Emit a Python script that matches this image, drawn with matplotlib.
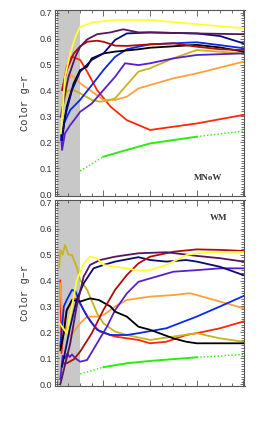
import matplotlib
matplotlib.use("Agg")
import matplotlib.pyplot as plt
from matplotlib.ticker import MultipleLocator, NullFormatter

# ---------------- data (x = arbitrary time units, y = g-r colour) -------------
# Top panel (MNoW)
t_yellow_a = [0.35, 0.7, 1.15, 1.6, 2.0, 3.0, 5.0, 8.0, 12.0, 16.0]
c_yellow_a = [0.235, 0.453, 0.543, 0.608, 0.646, 0.662, 0.672, 0.672, 0.656, 0.640]
t_dpurple_a = [0.35, 0.6, 1.0, 1.6, 2.0, 2.6, 3.45, 4.6, 5.7, 7.0, 8.0, 12.0, 16.0]
c_dpurple_a = [0.299, 0.364, 0.453, 0.531, 0.569, 0.597, 0.617, 0.624, 0.636, 0.624, 0.624, 0.620, 0.617]
t_dred_a = [0.45, 0.85, 1.45, 2.0, 2.6, 3.45, 4.0, 5.0, 6.0, 8.0, 10.0, 12.0, 14.0, 16.0]
c_dred_a = [0.402, 0.479, 0.543, 0.570, 0.588, 0.592, 0.588, 0.573, 0.572, 0.578, 0.582, 0.569, 0.559, 0.556]
t_navy_a = [0.45, 0.7, 1.3, 2.0, 3.0, 4.0, 5.0, 6.0, 8.0, 12.0, 14.0, 16.0]
c_navy_a = [0.209, 0.299, 0.402, 0.473, 0.518, 0.543, 0.595, 0.620, 0.624, 0.620, 0.610, 0.582]
t_black_a = [0.45, 0.85, 1.45, 2.0, 2.6, 3.0, 4.0, 5.0, 7.0, 8.0, 12.0, 14.0, 16.0]
c_black_a = [0.222, 0.338, 0.428, 0.479, 0.492, 0.524, 0.543, 0.550, 0.559, 0.565, 0.576, 0.566, 0.550]
t_blue_a = [0.35, 0.6, 1.15, 2.0, 3.0, 4.0, 5.0, 6.0, 7.0, 8.0, 12.0, 14.0, 16.0]
c_blue_a = [0.209, 0.273, 0.325, 0.364, 0.421, 0.479, 0.530, 0.559, 0.569, 0.578, 0.586, 0.575, 0.563]
t_violet_a = [0.35, 0.45, 0.7, 1.15, 1.6, 2.0, 3.0, 4.0, 5.0, 5.85, 7.0, 8.0, 10.0, 12.0, 16.0]
c_violet_a = [0.240, 0.171, 0.235, 0.267, 0.293, 0.318, 0.350, 0.402, 0.453, 0.505, 0.498, 0.505, 0.524, 0.537, 0.543]
t_olive_a = [0.45, 0.85, 1.3, 2.0, 3.0, 3.7, 4.3, 5.0, 7.0, 8.0, 10.0, 12.0, 16.0]
c_olive_a = [0.325, 0.396, 0.405, 0.389, 0.364, 0.357, 0.360, 0.370, 0.473, 0.486, 0.524, 0.556, 0.543]
t_orange_a = [0.5, 0.85, 1.25, 2.0, 3.0, 4.0, 5.0, 6.0, 7.0, 8.0, 10.0, 12.0, 16.0]
c_orange_a = [0.364, 0.428, 0.460, 0.428, 0.396, 0.364, 0.364, 0.376, 0.408, 0.421, 0.447, 0.466, 0.511]
t_red_a = [0.5, 0.85, 1.25, 2.0, 2.6, 3.45, 4.6, 6.0, 8.0, 12.0, 16.0]
c_red_a = [0.408, 0.492, 0.531, 0.518, 0.473, 0.402, 0.338, 0.286, 0.248, 0.273, 0.306]
t_green_a = [2.0, 4.0, 6.0, 8.0, 12.0, 16.0]
c_green_a = [0.090, 0.145, 0.171, 0.196, 0.222, 0.244]

# Bottom panel (WM)
t_yellow_b = [0.25, 0.85, 1.3, 1.7, 2.3, 2.85, 3.45, 4.0, 5.0, 6.0, 7.0, 8.0, 9.4, 11.1, 12.0, 14.0, 16.0]
c_yellow_b = [0.235, 0.197, 0.300, 0.400, 0.466, 0.492, 0.486, 0.460, 0.453, 0.447, 0.438, 0.440, 0.460, 0.498, 0.505, 0.510, 0.510]
t_dpurple_b = [0.3, 1.15, 1.7, 2.3, 2.85, 3.7, 5.0, 7.0, 9.4, 11.1, 12.0, 14.0, 16.0]
c_dpurple_b = [0.000, 0.158, 0.300, 0.415, 0.460, 0.479, 0.492, 0.505, 0.509, 0.500, 0.495, 0.486, 0.473]
t_navy_b = [0.45, 1.15, 1.7, 2.3, 3.15, 4.0, 5.0, 7.0, 8.0, 9.4, 11.1, 12.0, 14.0, 16.0]
c_navy_b = [0.068, 0.222, 0.325, 0.389, 0.447, 0.460, 0.473, 0.490, 0.479, 0.473, 0.479, 0.473, 0.453, 0.421]
t_dred_b = [0.6, 0.85, 1.45, 2.0, 3.0, 4.0, 5.0, 6.0, 7.0, 8.0, 10.0, 12.0, 14.0, 16.0]
c_dred_b = [0.081, 0.081, 0.096, 0.126, 0.197, 0.287, 0.364, 0.421, 0.466, 0.492, 0.511, 0.520, 0.518, 0.514]
t_violet_b = [0.3, 0.5, 0.7, 0.9, 1.1, 1.3, 1.6, 2.0, 2.6, 3.45, 4.3, 5.0, 6.0, 7.0, 8.0, 10.0, 12.0, 14.0, 16.0]
c_violet_b = [0.020, 0.110, 0.100, 0.118, 0.105, 0.115, 0.100, 0.087, 0.094, 0.158, 0.222, 0.286, 0.350, 0.395, 0.408, 0.434, 0.440, 0.447, 0.447]
t_orange_b = [0.3, 0.4, 0.6, 0.85, 1.15, 2.0, 2.6, 3.45, 4.0, 5.0, 6.0, 8.0, 10.0, 11.4, 12.0, 14.0, 16.0]
c_orange_b = [0.389, 0.300, 0.197, 0.222, 0.184, 0.235, 0.261, 0.261, 0.267, 0.300, 0.325, 0.338, 0.344, 0.351, 0.344, 0.319, 0.293]
t_red_b = [0.3, 0.4, 0.6, 0.85, 1.45, 1.85, 2.3, 3.0, 3.7, 5.0, 7.0, 8.0, 9.4, 11.1, 12.0, 14.0, 16.0]
c_red_b = [0.400, 0.120, 0.222, 0.286, 0.331, 0.325, 0.286, 0.235, 0.203, 0.184, 0.171, 0.158, 0.164, 0.190, 0.197, 0.216, 0.242]
t_blue_b = [0.3, 0.6, 0.85, 1.3, 1.6, 2.0, 2.6, 3.45, 4.6, 6.0, 7.0, 9.4, 12.0, 14.0, 16.0]
c_blue_b = [0.145, 0.300, 0.325, 0.364, 0.358, 0.312, 0.261, 0.210, 0.190, 0.190, 0.197, 0.216, 0.261, 0.300, 0.340]
t_black_b = [0.3, 0.6, 0.85, 1.3, 2.0, 2.85, 3.6, 4.6, 5.0, 6.0, 7.0, 8.0, 10.0, 11.1, 12.0, 16.0]
c_black_b = [0.132, 0.197, 0.286, 0.325, 0.319, 0.331, 0.325, 0.300, 0.280, 0.261, 0.222, 0.210, 0.177, 0.164, 0.158, 0.158]
t_olive_b = [0.2, 0.3, 0.5, 0.7, 1.0, 1.3, 1.7, 2.0, 2.6, 3.45, 4.0, 5.0, 6.0, 8.0, 10.0, 12.0, 14.0, 16.0]
c_olive_b = [0.453, 0.518, 0.500, 0.537, 0.500, 0.498, 0.453, 0.402, 0.364, 0.274, 0.235, 0.203, 0.190, 0.171, 0.184, 0.197, 0.177, 0.164]
t_green_b = [2.0, 4.0, 6.0, 8.0, 12.0, 16.0]
c_green_b = [0.040, 0.066, 0.081, 0.090, 0.104, 0.115]

ytick_values = [0.0, 0.1, 0.2, 0.3, 0.4, 0.5, 0.6, 0.7]
ytick_labels = ["0.0", "0.1", "0.2", "0.3", "0.4", "0.5", "0.6", "0.7"]
panel_labels = ["MNoW", "WM"]

# ---------------- styles -------------------------------------------------------
COL = {
    "yellow": "#ffff33", "dpurple": "#5a1458", "dred": "#b40a0a", "navy": "#0a0a78",
    "black": "#000000", "blue": "#0a28f0", "violet": "#5a1ed2", "olive": "#c8b41e",
    "orange": "#ffa03c", "red": "#ff280a", "green": "#28f00a",
}

top_series = [
    (t_green_a, c_green_a, "green"),
    (t_red_a, c_red_a, "red"),
    (t_orange_a, c_orange_a, "orange"),
    (t_olive_a, c_olive_a, "olive"),
    (t_violet_a, c_violet_a, "violet"),
    (t_blue_a, c_blue_a, "blue"),
    (t_black_a, c_black_a, "black"),
    (t_navy_a, c_navy_a, "navy"),
    (t_dred_a, c_dred_a, "dred"),
    (t_dpurple_a, c_dpurple_a, "dpurple"),
    (t_yellow_a, c_yellow_a, "yellow"),
]
bottom_series = [
    (t_green_b, c_green_b, "green"),
    (t_red_b, c_red_b, "red"),
    (t_orange_b, c_orange_b, "orange"),
    (t_olive_b, c_olive_b, "olive"),
    (t_violet_b, c_violet_b, "violet"),
    (t_blue_b, c_blue_b, "blue"),
    (t_black_b, c_black_b, "black"),
    (t_navy_b, c_navy_b, "navy"),
    (t_dred_b, c_dred_b, "dred"),
    (t_dpurple_b, c_dpurple_b, "dpurple"),
    (t_yellow_b, c_yellow_b, "yellow"),
]

W, H = 258, 422
fig = plt.figure(figsize=(W / 100, H / 100), dpi=100)

left = 54.5 / W
width = (244.5 - 54.5) / W
ax_top = fig.add_axes([left, 1 - 196 / H, width, (196 - 10) / H])
ax_bot = fig.add_axes([left, 1 - 386 / H, width, (386 - 200) / H])

for ax, series, lab, lab_xy in [
    (ax_top, top_series, panel_labels[0], (0.885, 0.097)),
    (ax_bot, bottom_series, panel_labels[1], (0.91, 0.903)),
]:
    ax.axvspan(0, 2, ymin=0, ymax=1, color="#c8c8c8", lw=0, zorder=0)
    for t, c, key in series:
        if key == "green":
            # dotted, solid, dotted
            ax.plot(t[0:2], c[0:2], color=COL[key], lw=1.0, ls=(0, (1, 1.5)), zorder=2)
            ax.plot(t[1:5], c[1:5], color=COL[key], lw=1.4, zorder=2)
            ax.plot(t[4:6], c[4:6], color=COL[key], lw=1.0, ls=(0, (1, 1.5)), zorder=2)
        else:
            ax.plot(t, c, color=COL[key], lw=1.3, zorder=2, solid_joinstyle="round")
    ax.set_xlim(-0.2, 16.1)
    ax.set_ylim(-0.0066, 0.7104)
    ax.set_yticks(ytick_values)
    ax.set_yticklabels(ytick_labels, fontsize=6.5, family="Liberation Sans", color="#333333")
    ax.yaxis.set_minor_locator(MultipleLocator(0.01))
    ax.xaxis.set_major_locator(MultipleLocator(4))
    ax.xaxis.set_minor_locator(MultipleLocator(1))
    ax.xaxis.set_major_formatter(NullFormatter())
    ax.tick_params(which="both", direction="in", top=True, right=True, color="#555555", width=0.6)
    ax.tick_params(which="major", length=4, pad=1.5)
    ax.tick_params(which="minor", length=2)
    ax.tick_params(axis="y", which="major", length=3)
    for s in ax.spines.values():
        s.set_linewidth(0.8)
        s.set_color("#555555")
    ax.set_ylabel("Color g\u2212r", fontsize=7.5, family="Liberation Mono", labelpad=7, color="#333333")
    ax.text(lab_xy[0], lab_xy[1], lab, transform=ax.transAxes, ha="right", va="center",
            fontsize=6.5, family="Liberation Serif", fontweight="bold", color="#333333")

fig.savefig("out.png", dpi=100)
